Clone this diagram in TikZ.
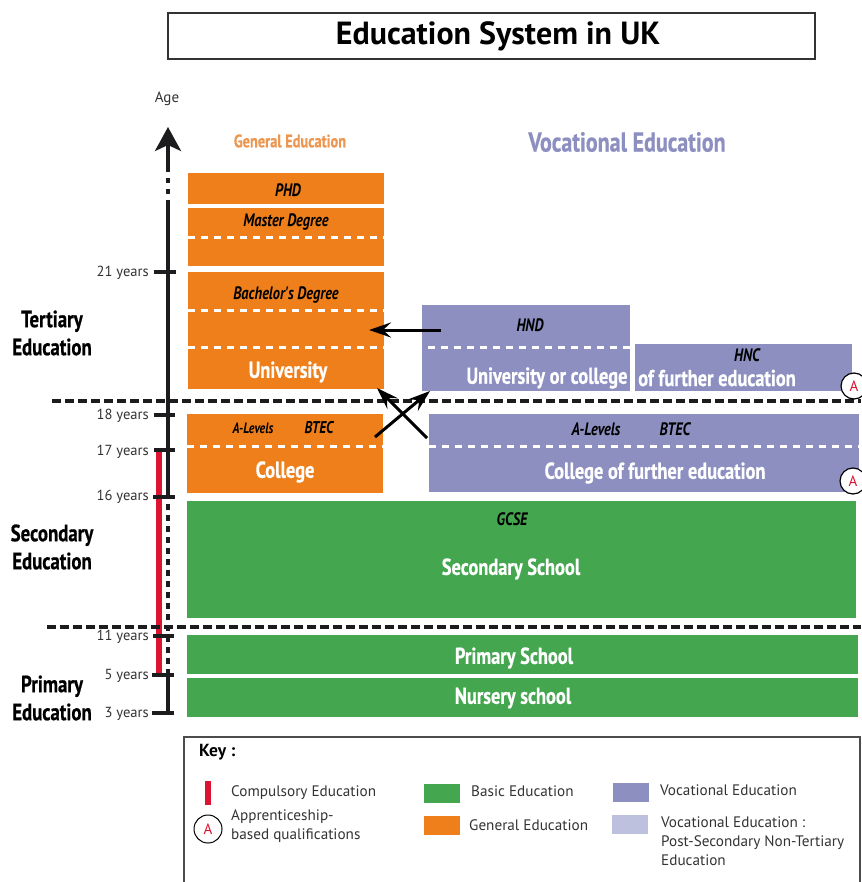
\documentclass[tikz,border=0pt]{standalone}
\usepackage{fontspec}
\setmainfont{PT Sans}
\newfontfamily\condfont[FakeStretch=0.8,BoldFeatures={FakeBold=0.6}]{PT Sans}
\definecolor{genorange}{RGB}{238, 127, 27}
\definecolor{genlabel}{RGB}{236, 150, 80}
\definecolor{basicgreen}{RGB}{69, 166, 80}
\definecolor{vocpurple}{RGB}{140, 143, 192}
\definecolor{voclight}{RGB}{190, 193, 222}
\definecolor{compred}{RGB}{220, 20, 50}
\definecolor{axisblack}{RGB}{28, 28, 30}
\usetikzlibrary{arrows.meta, positioning}
\tikzset{
  x=1pt, y=-1pt,
  genbox/.style={fill=genorange, minimum height=#1, minimum width=196pt, inner sep=0pt},
  vocbox/.style={fill=vocpurple, inner sep=0pt},
  basicbox/.style={fill=basicgreen, inner sep=0pt},
  swatch/.style={minimum width=36pt, minimum height=19pt, inner sep=0pt},
  whitedash/.style={draw=white, line width=3pt, dash pattern=on 7pt off 6pt},
  leveldash/.style={draw=axisblack, line width=3.2pt, dash pattern=on 9pt off 4pt},
  agetick/.style={draw=axisblack, line width=3.2pt},
  yearlab/.style={anchor=east, font=\fontsize{14.6}{16}\selectfont, text=black!80, inner sep=0pt, yshift=-1pt},
  whitelab/.style={text=white, font=\condfont\bfseries\fontsize{23}{25}\selectfont, inner sep=0pt, yshift=-1pt},
  qual/.style={text=black, font=\condfont\bfseries\itshape\fontsize{18}{20}\selectfont, inner sep=0pt},
  stage/.style={text=black, align=center, font=\condfont\bfseries\fontsize{23.5}{28}\selectfont, inner sep=0pt},
  keylab/.style={anchor=west, align=left, text=black!80, font=\fontsize{15.2}{19}\selectfont, inner sep=0pt},
  apprent/.style={circle, draw=black, fill=white, line width=1.2pt, minimum size=#1, inner sep=0pt, text=compred, font=\fontsize{15}{17}\selectfont},
  flow/.style={-{Stealth[length=22pt,width=15pt,inset=8pt]}, line width=3pt, black},
}
\begin{document}
\begin{tikzpicture}
  \useasboundingbox (0,0) rectangle (861,882);

  % Title
  \node[draw=black!80, line width=1.2pt, minimum width=647pt, minimum height=46pt, inner sep=0pt] (title) at (491.5,36) {};
  \node[inner sep=0pt, font=\bfseries\fontsize{32}{34}\selectfont] (titlelab) at (498,36) {Education System in UK};

  % Column headings
  \node[text=genlabel, font=\condfont\bfseries\fontsize{18}{20}\selectfont] (genhead) at (290,141) {General Education};
  \node[text=vocpurple, font=\condfont\bfseries\fontsize{27.5}{30}\selectfont] (vochead) at (627,142) {Vocational Education};

  % General education
  \node[genbox=31pt] (phd) at (286,188.5) {};
  \node[genbox=58pt] (master) at (286,237) {};
  \node[genbox=117pt] (bachelor) at (286,330.5) {};
  \node[genbox=79pt] (college) at (285,453.5) {};
  \draw[whitedash] (188,238) -- (384,238);
  \draw[whitedash] (188,310) -- (384,310);
  \draw[whitedash] (188,347) -- (384,347);
  \draw[whitedash] (187,446) -- (383,446);
  \node[qual] (phdlab) at (288,190) {PHD};
  \node[qual] (masterlab) at (286,222) {Master Degree};
  \node[qual] (bachlab) at (286,295) {Bachelor's Degree};
  \node[whitelab] (unilab) at (288,371) {University};
  \node[qual, font=\condfont\bfseries\itshape\fontsize{15}{17}\selectfont] (alevgen) at (253,428) {A-Levels};
  \node[qual, font=\condfont\bfseries\itshape\fontsize{17}{19}\selectfont] (btecgen) at (319,428) {BTEC};
  \node[whitelab] (collab) at (285,471) {College};

  % Vocational education
  \node[vocbox, minimum width=208pt, minimum height=86pt] (hnd) at (526,348) {};
  \node[vocbox, minimum width=217pt, minimum height=47pt] (hnc) at (743.5,367.5) {};
  \node[vocbox, minimum width=430pt, minimum height=78pt] (further) at (644,453) {};
  \draw[whitedash] (428,347) -- (630,347);
  \draw[whitedash] (429,446) -- (859,446);
  \node[qual] (hndlab) at (530,325) {HND};
  \node[qual] (hnclab) at (747,355) {HNC};
  \node[whitelab] (unicol) at (547,377) {University or college};
  \node[whitelab] (offurther) at (717,377) {of further education};
  \node[qual] (alevvoc) at (596,429) {A-Levels};
  \node[qual] (btecvoc) at (675,429) {BTEC};
  \node[whitelab] (furtherlab) at (655,472) {College of further education};

  % Basic education
  \node[basicbox, minimum width=669pt, minimum height=117pt] (secondary) at (521.5,559.5) {};
  \node[basicbox, minimum width=671pt, minimum height=39pt] (primary) at (522.5,654.5) {};
  \node[basicbox, minimum width=671pt, minimum height=39pt] (nursery) at (522.5,697.5) {};
  \node[qual] (gcse) at (512,519) {GCSE};
  \node[whitelab] (seclab) at (511,568) {Secondary School};
  \node[whitelab] (primlab) at (514,657) {Primary School};
  \node[whitelab] (nurslab) at (513,697) {Nursery school};

  % Age axis
  \coordinate (age3) at (168,713);
  \coordinate (age5) at (168,675);
  \coordinate (age11) at (168,636);
  \coordinate (age16) at (168,497);
  \coordinate (age17) at (168,450);
  \coordinate (age18) at (168,415);
  \coordinate (age21) at (168,272);
  \coordinate (gaptop) at (168,170);
  \coordinate (gapbot) at (168,205);
  \coordinate (agetop) at (168,127);
  \draw[compred, line width=5.5pt] (159,450) -- (159,675);
  \draw[agetick] (age3) -- (age5);
  \draw[agetick, dash pattern=on 6pt off 5pt] (age5) -- (age16);
  \draw[agetick, line width=3.6pt] (age16) -- (gapbot);
  \draw[agetick, line width=3.6pt, dash pattern=on 5pt off 6pt] (gapbot) -- (gaptop);
  \draw[line width=3.6pt, axisblack, -{Stealth[length=24pt,width=26pt,inset=6pt]}] (gaptop) -- (agetop);
  \draw[agetick] (154,272) -- (176,272);
  \draw[agetick] (154,415) -- (175,415);
  \draw[agetick] (154,450) -- (175,450);
  \draw[agetick] (153,497) -- (175,497);
  \draw[agetick] (153,636) -- (174,636);
  \draw[agetick] (152,675) -- (174,675);
  \draw[agetick] (152,713) -- (174,713);
  \node[font=\fontsize{15}{17}\selectfont, text=black!80] (agelab) at (167,99) {Age};
  \node[yearlab] (y21) at (149,272) {21 years};
  \node[yearlab] (y18) at (149,415) {18 years};
  \node[yearlab] (y17) at (149,451) {17 years};
  \node[yearlab] (y16) at (149,496) {16 years};
  \node[yearlab] (y11) at (149,636) {11 years};
  \node[yearlab] (y5) at (149,675) {5 years};
  \node[yearlab] (y3) at (149,713) {3 years};

  % Stage borders
  \draw[leveldash] (52,401) -- (861,401);
  \draw[leveldash] (47,627) -- (861,627);
  \node[stage] (tertiary) at (52,333) {Tertiary\\Education};
  \node[stage] (second) at (52,547) {Secondary\\Education};
  \node[stage] (prim) at (52,698) {Primary\\Education};

  % Apprenticeship marks
  \node[apprent=26pt] (aone) at (854,386) {A};
  \node[apprent=26pt] (atwo) at (853,481) {A};

  % Progression arrows
  \coordinate (hndstart) at (441,330);
  \coordinate (hndend) at (369,330);
  \coordinate (volstart) at (427,438);
  \coordinate (volend) at (377,388);
  \coordinate (genstart) at (375,437);
  \coordinate (genend) at (430,391);
  \draw[flow] (hndstart) -- (hndend);
  \draw[flow] (volstart) -- (volend);
  \draw[flow] (genstart) -- (genend);

  % Key
  \node[draw=black!70, line width=1.2pt, minimum width=676pt, minimum height=160pt, inner sep=0pt] (keybox) at (522,817) {};
  \node[anchor=west, inner sep=0pt, font=\bfseries\fontsize{17.5}{19}\selectfont] (keytitle) at (199,752) {Key :};
  \coordinate (redtop) at (208,781);
  \coordinate (redbot) at (208,805);
  \draw[compred, line width=5.5pt] (redtop) -- (redbot);
  \node[keylab] (compkey) at (231,793) {Compulsory Education};
  \node[apprent=28pt, line width=1pt] (akey) at (208,829) {A};
  \node[keylab] (appkey) at (231,826.5) {Apprenticeship-\\based qualifications};
  \node[swatch, fill=basicgreen] (greenkey) at (442,793) {};
  \node[swatch, fill=genorange] (orangekey) at (442,825) {};
  \node[swatch, fill=vocpurple] (purplekey) at (631,792) {};
  \node[swatch, fill=voclight] (lightkey) at (630,824) {};
  \node[keylab] (basickey) at (471,791) {Basic Education};
  \node[keylab] (genkey) at (469,825) {General Education};
  \node[keylab] (vockey) at (660,790) {Vocational Education};
  \node[keylab] (postkey) at (661,841) {Vocational Education :\\Post-Secondary Non-Tertiary\\Education};
\end{tikzpicture}
\end{document}
